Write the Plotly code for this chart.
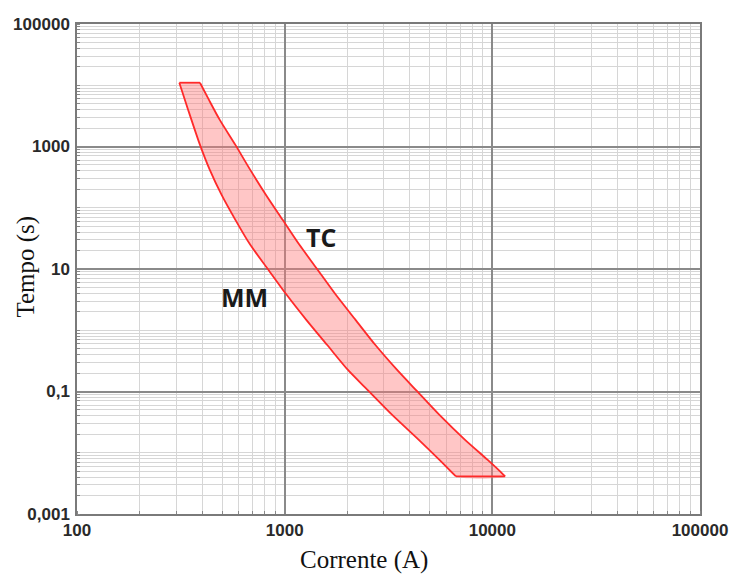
import math
import plotly.graph_objects as go

# --- data ---
# MM curve (lower / left boundary), current in A and time in s
mm_current = [311, 343, 391, 436, 497, 579, 683, 821, 1022, 1271, 1599, 2011, 2528, 3285, 4412, 5547, 6677]
mm_time = [11000, 3954, 1062, 415, 162, 63.5, 24.8, 10.5, 3.79, 1.48, 0.579, 0.227, 0.103, 0.0418, 0.01637, 0.0077, 0.0041]
# TC curve (upper / right boundary)
tc_current = [391, 432, 487, 579, 683, 813, 978, 1178, 1418, 1764, 2194, 2729, 3470, 4317, 5547, 7368, 9469, 10676, 11525]
tc_time = [11000, 5754, 2717, 1062, 415, 162, 63.5, 24.8, 10.5, 3.79, 1.48, 0.579, 0.227, 0.103, 0.0418, 0.01637, 0.0077, 0.0053, 0.0041]

x_ticks = [100, 1000, 10000, 100000]
x_ticktext = ["100", "1000", "10000", "100000"]
y_ticks = [0.001, 0.1, 10, 1000, 100000]
y_ticktext = ["0,001", "0,1", "10", "1000", "100000"]

labels = ["TC", "MM"]
label_current = [1500, 640]
label_time = [33.5, 3.5]

# minor grid values (1..9 per decade)
x_minor = [k * 10 ** d for d in range(2, 5) for k in range(1, 10)] + [100000]
y_minor = [k * 10.0 ** d for d in range(-3, 5) for k in range(1, 10)] + [100000]

fig = go.Figure()
# filled band: MM top->bottom, then TC bottom->top (smooth curves)
fig.add_trace(go.Scatter(
    x=mm_current + tc_current[::-1],
    y=mm_time + tc_time[::-1],
    mode="lines", fill="toself",
    fillcolor="rgba(255,120,120,0.42)",
    line=dict(color="rgba(0,0,0,0)", width=0, shape="spline", smoothing=0.7),
    hoverinfo="skip", showlegend=False,
))
# boundary curves
for cx, cy in ((mm_current, mm_time), (tc_current, tc_time)):
    fig.add_trace(go.Scatter(
        x=cx, y=cy, mode="lines",
        line=dict(color="#FF2A2A", width=1.8, shape="spline", smoothing=0.7),
        hoverinfo="skip", showlegend=False,
    ))
# flat top and bottom edges
fig.add_trace(go.Scatter(
    x=[mm_current[0], tc_current[0]], y=[mm_time[0], tc_time[0]], mode="lines",
    line=dict(color="#FF2A2A", width=1.8), hoverinfo="skip", showlegend=False))
fig.add_trace(go.Scatter(
    x=[mm_current[-1], tc_current[-1]], y=[mm_time[-1], tc_time[-1]], mode="lines",
    line=dict(color="#FF2A2A", width=1.8), hoverinfo="skip", showlegend=False))

tick_font = dict(family="Liberation Sans, Arial, sans-serif", size=17, color="#2a2a2a", weight="bold")

fig.update_xaxes(
    type="log", range=[2, 5],
    tickvals=x_ticks, ticktext=x_ticktext, tickfont=tick_font,
    showgrid=True, gridcolor="#8a8a8a", gridwidth=1.6,
    ticks="", showline=True, linecolor="#7a7a7a", linewidth=1.5, mirror=True,
    minor=dict(tickvals=x_minor, showgrid=True, gridcolor="#d6d6d6", gridwidth=1,
               ticks="inside", ticklen=3, tickcolor="#888"),
    zeroline=False,
)
fig.update_yaxes(
    type="log", range=[-3, 5],
    tickvals=y_ticks, ticktext=y_ticktext, tickfont=tick_font,
    showgrid=True, gridcolor="#8a8a8a", gridwidth=1.6,
    ticks="", showline=True, linecolor="#7a7a7a", linewidth=1.5, mirror=True,
    minor=dict(tickvals=y_minor, showgrid=True, gridcolor="#d6d6d6", gridwidth=1,
               ticks="inside", ticklen=3, tickcolor="#888"),
    zeroline=False, ticklabelstandoff=2,
)

for txt, cx, cy in zip(labels, label_current, label_time):
    fig.add_annotation(
        x=math.log10(cx), y=math.log10(cy), xref="x", yref="y", text=txt,
        showarrow=False,
        font=dict(family="Open Sans, sans-serif", size=25, color="#1a1a1a", weight="bold"),
    )

title_font = dict(family="Liberation Serif, Times New Roman, serif", size=25, color="#111")
fig.add_annotation(x=0.46, y=-0.094, xref="paper", yref="paper", text="Corrente (A)",
                   showarrow=False, font=title_font, xanchor="center", yanchor="middle")
fig.add_annotation(x=-0.081, y=0.504, xref="paper", yref="paper", text="Tempo (s)",
                   showarrow=False, font=title_font, textangle=-90,
                   xanchor="center", yanchor="middle")

fig.update_layout(
    width=740, height=574,
    margin=dict(l=77, r=31, t=24, b=60),
    plot_bgcolor="white", paper_bgcolor="white",
    showlegend=False,
)

fig.write_html("out.html")
